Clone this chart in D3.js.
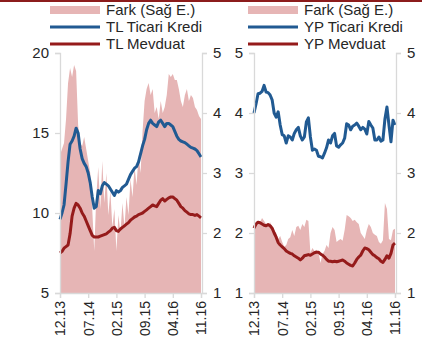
<!DOCTYPE html>
<html lang="tr">
<head>
<meta charset="UTF-8">
<title>TL ve YP Ticari Kredi / Mevduat</title>
<script src="https://d3js.org/d3.v7.min.js"></script>
<style>
  body { margin: 0; background: #fff; }
  svg { display: block; font-family: "Liberation Sans", Arial, sans-serif; }
  .axis path, .axis line { stroke: #d9d9d9; stroke-width: 1.3; }
  .axis text { fill: #262626; font-size: 15px; }
  .xaxis text { font-size: 14px; }
  .legend text { fill: #262626; font-size: 15px; }
</style>
</head>
<body>
<div id="chart"></div>
<script>
// half-month steps from 12.13 to 11.16
const xTickIdx = [0, 14, 28, 42, 56, 70];
const xTickLabels = ["12.13", "07.14", "02.15", "09.15", "04.16", "11.16"];

// left panel: TL (left axis 5-20), spread on right axis 1-5
const tlKredi = [9.6,10.0,10.5,11.8,13.2,14.3,14.5,14.8,15.3,15.0,14.0,13.4,13.1,12.9,12.5,11.9,11.0,10.3,10.4,11.4,
  11.2,11.7,11.9,11.8,11.7,11.5,11.3,11.1,11.4,11.3,11.4,11.6,11.7,11.8,12.1,12.4,12.6,12.8,12.9,13.2,
  13.7,14.2,14.6,15.2,15.6,15.8,15.6,15.5,15.4,15.7,15.8,15.6,15.4,15.6,15.6,15.5,15.4,15.1,14.8,14.6,
  14.5,14.45,14.4,14.3,14.2,14.1,14.05,14.0,13.9,13.7,13.5];
const tlMevduat = [7.5,7.6,7.8,7.9,8.0,8.7,9.8,10.3,10.6,10.5,10.3,10.0,9.8,9.5,9.2,8.9,8.6,8.5,8.5,8.5,
  8.55,8.6,8.65,8.7,8.8,8.9,9.05,9.1,8.9,8.85,9.0,9.1,9.2,9.3,9.4,9.55,9.65,9.75,9.8,9.9,
  9.95,10.0,10.1,10.2,10.3,10.4,10.5,10.45,10.4,10.6,10.8,10.9,10.75,10.85,10.95,11.0,11.0,10.9,10.8,10.6,
  10.4,10.3,10.15,10.05,9.95,9.9,9.9,9.85,9.9,9.8,9.7];
const tlFark = [3.3,3.4,3.5,3.9,4.5,4.75,4.6,4.8,4.7,3.8,3.5,3.45,3.6,3.4,3.2,3.0,2.4,1.7,2.6,3.1,
  2.4,3.2,2.5,3.0,2.3,2.7,2.1,2.4,1.7,2.3,2.0,2.5,2.1,2.6,2.3,2.9,2.6,3.1,2.8,3.3,
  3.0,3.7,4.2,4.4,4.5,4.3,4.4,4.0,4.1,3.9,4.2,4.0,4.1,4.3,4.65,4.6,4.65,4.55,4.55,4.4,
  4.2,4.1,4.3,4.4,4.2,4.3,4.25,4.1,4.05,3.95,3.9];

// right panel: YP (both axes 1-5)
const ypKredi = [4.0,4.15,4.32,4.33,4.36,4.46,4.35,4.34,4.3,4.22,4.0,3.93,4.02,3.8,3.64,3.62,3.5,3.62,3.6,3.55,
  3.66,3.72,3.76,3.62,3.55,3.6,3.85,3.92,3.6,3.38,3.4,3.38,3.28,3.27,3.25,3.33,3.42,3.55,3.5,3.62,
  3.66,3.45,3.43,3.47,3.5,3.58,3.82,3.8,3.72,3.78,3.8,3.83,3.78,3.72,3.76,3.73,3.65,3.86,3.8,3.75,
  3.55,3.55,3.6,3.53,3.55,3.9,4.1,3.8,3.52,3.88,3.8];
const ypMevduat = [2.08,2.15,2.18,2.17,2.15,2.13,2.12,2.14,2.12,2.08,2.0,1.93,1.84,1.8,1.77,1.74,1.7,1.68,1.66,1.65,
  1.62,1.6,1.58,1.55,1.58,1.62,1.63,1.64,1.63,1.65,1.67,1.68,1.68,1.65,1.63,1.6,1.56,1.53,1.53,1.52,
  1.53,1.52,1.53,1.54,1.55,1.53,1.5,1.48,1.46,1.45,1.5,1.56,1.6,1.63,1.7,1.75,1.74,1.72,1.68,1.64,
  1.62,1.59,1.57,1.53,1.51,1.56,1.62,1.58,1.66,1.8,1.83];
const ypFark = [2.05,2.15,2.2,2.18,2.25,2.2,2.15,2.12,2.18,2.1,2.05,2.0,1.9,1.95,1.85,1.77,1.8,1.9,1.93,2.05,
  1.95,2.1,2.12,2.05,2.15,2.1,2.22,2.2,1.67,1.75,1.7,1.72,1.68,1.5,1.65,1.7,1.8,1.75,2.0,2.1,
  2.05,1.85,1.88,1.9,1.87,2.05,2.3,2.28,2.25,2.2,2.22,2.18,2.15,2.0,1.95,1.9,2.05,2.15,2.1,2.0,
  1.97,1.95,1.85,1.82,1.88,2.5,2.4,1.9,1.88,2.05,2.07];

const colors = { fark: "#e6b5b5", kredi: "#215a92", mevduat: "#951b1b" };

const width = 422, height = 347;
const plotTop = 53, plotBottom = 293;

const svg = d3.select("#chart").append("svg")
  .attr("width", width)
  .attr("height", height);

// thin dark red rule across the top
svg.append("rect")
  .attr("x", 0).attr("y", 0)
  .attr("width", width).attr("height", 2)
  .attr("fill", "#8c1c1c");

function drawPanel(p) {
  const x = d3.scaleLinear().domain([0, 70]).range([p.x0, p.x1]);
  const yL = d3.scaleLinear().domain(p.leftDomain).range([plotBottom, plotTop]);
  const yR = d3.scaleLinear().domain([1, 5]).range([plotBottom, plotTop]);

  const g = svg.append("g");

  // spread area on right axis
  g.append("path")
    .datum(p.fark)
    .attr("fill", colors.fark)
    .attr("d", d3.area()
      .x((d, i) => x(i))
      .y0(yR(1))
      .y1(d => yR(d)));

  const line = d3.line().x((d, i) => x(i)).y(d => yL(d));
  g.append("path").datum(p.kredi)
    .attr("fill", "none").attr("stroke", colors.kredi)
    .attr("stroke-width", 3).attr("stroke-linejoin", "round")
    .attr("d", line);
  g.append("path").datum(p.mevduat)
    .attr("fill", "none").attr("stroke", colors.mevduat)
    .attr("stroke-width", 3).attr("stroke-linejoin", "round")
    .attr("d", line);

  // axes
  g.append("g").attr("class", "axis")
    .attr("transform", `translate(${p.x0},0)`)
    .call(d3.axisLeft(yL).tickValues(p.leftTicks).tickFormat(d3.format("d"))
      .tickSize(5).tickPadding(6));
  g.append("g").attr("class", "axis")
    .attr("transform", `translate(${p.x1 + 1},0)`)
    .call(d3.axisRight(yR).tickValues([1, 2, 3, 4, 5]).tickFormat(d3.format("d"))
      .tickSize(5).tickPadding(6));
  g.append("g").attr("class", "axis xaxis")
    .attr("transform", `translate(0,${plotBottom})`)
    .call(d3.axisBottom(x).tickValues(xTickIdx)
      .tickFormat((d, i) => xTickLabels[i]).tickSize(5))
    .selectAll("text")
      .attr("transform", "rotate(-90)")
      .attr("x", -8).attr("y", 0).attr("dy", "0.35em")
      .style("text-anchor", "end");

  // legend
  const lg = svg.append("g").attr("class", "legend");
  const rows = [
    { label: "Fark (Sağ E.)", type: "rect", color: colors.fark },
    { label: p.names[0], type: "line", color: colors.kredi },
    { label: p.names[1], type: "line", color: colors.mevduat }
  ];
  rows.forEach((r, i) => {
    const cy = 10 + i * 17;
    if (r.type === "rect") {
      lg.append("rect").attr("x", p.legX).attr("y", cy - 4)
        .attr("width", 50).attr("height", 8).attr("fill", r.color);
    } else {
      lg.append("line").attr("x1", p.legX).attr("x2", p.legX + 50)
        .attr("y1", cy).attr("y2", cy)
        .attr("stroke", r.color).attr("stroke-width", 3);
    }
    lg.append("text").attr("x", p.legX + 56).attr("y", cy)
      .attr("dy", "0.35em").text(r.label);
  });
}

drawPanel({
  x0: 60, x1: 201, leftDomain: [5, 20], leftTicks: [5, 10, 15, 20],
  kredi: tlKredi, mevduat: tlMevduat, fark: tlFark,
  names: ["TL Ticari Kredi", "TL Mevduat"], legX: 50
});
drawPanel({
  x0: 254, x1: 395, leftDomain: [1, 5], leftTicks: [1, 2, 3, 4, 5],
  kredi: ypKredi, mevduat: ypMevduat, fark: ypFark,
  names: ["YP Ticari Kredi", "YP Mevduat"], legX: 248
});
</script>
</body>
</html>
